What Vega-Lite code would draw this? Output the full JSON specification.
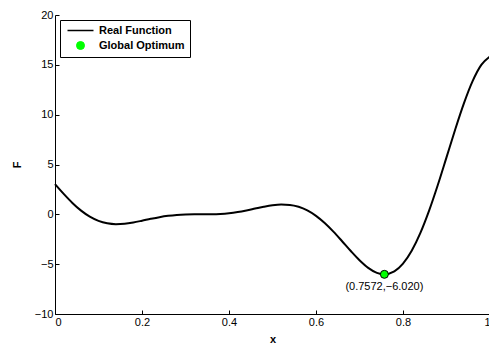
{
  "$schema": "https://vega.github.io/schema/vega-lite/v6.json",
  "width": 435,
  "height": 299,
  "autosize": {"type": "none"},
  "padding": {"left": 55, "top": 15, "right": 0, "bottom": 29},
  "background": "white",
  "config": {
    "view": {"stroke": null},
    "font": "Liberation Sans",
    "axis": {
      "grid": false,
      "domainColor": "black",
      "tickColor": "black",
      "labelColor": "black",
      "labelFont": "Liberation Sans",
      "labelFontSize": 11,
      "titleFont": "Liberation Sans",
      "titleFontSize": 11,
      "titleFontWeight": "bold",
      "titleColor": "black",
      "tickSize": -4,
      "labelPadding": 6
    }
  },
  "datasets": {
    "curve": [
      {"x": 0.00, "F": 3.0272, "series": "Real Function"},
      {"x": 0.02, "F": 2.0493, "series": "Real Function"},
      {"x": 0.04, "F": 1.1443, "series": "Real Function"},
      {"x": 0.06, "F": 0.3711, "series": "Real Function"},
      {"x": 0.08, "F": -0.2343, "series": "Real Function"},
      {"x": 0.10, "F": -0.6566, "series": "Real Function"},
      {"x": 0.12, "F": -0.9001, "series": "Real Function"},
      {"x": 0.14, "F": -0.9854, "series": "Real Function"},
      {"x": 0.16, "F": -0.9444, "series": "Real Function"},
      {"x": 0.18, "F": -0.8156, "series": "Real Function"},
      {"x": 0.20, "F": -0.6397, "series": "Real Function"},
      {"x": 0.22, "F": -0.4522, "series": "Real Function"},
      {"x": 0.24, "F": -0.2823, "series": "Real Function"},
      {"x": 0.26, "F": -0.1492, "series": "Real Function"},
      {"x": 0.28, "F": -0.0612, "series": "Real Function"},
      {"x": 0.30, "F": -0.0156, "series": "Real Function"},
      {"x": 0.32, "F": -0.0010, "series": "Real Function"},
      {"x": 0.34, "F": 0.0001, "series": "Real Function"},
      {"x": 0.36, "F": 0.0081, "series": "Real Function"},
      {"x": 0.38, "F": 0.0416, "series": "Real Function"},
      {"x": 0.40, "F": 0.1148, "series": "Real Function"},
      {"x": 0.42, "F": 0.2332, "series": "Real Function"},
      {"x": 0.44, "F": 0.3924, "series": "Real Function"},
      {"x": 0.46, "F": 0.5769, "series": "Real Function"},
      {"x": 0.48, "F": 0.7606, "series": "Real Function"},
      {"x": 0.50, "F": 0.9093, "series": "Real Function"},
      {"x": 0.52, "F": 0.9838, "series": "Real Function"},
      {"x": 0.54, "F": 0.9449, "series": "Real Function"},
      {"x": 0.56, "F": 0.7569, "series": "Real Function"},
      {"x": 0.58, "F": 0.3956, "series": "Real Function"},
      {"x": 0.60, "F": -0.1494, "series": "Real Function"},
      {"x": 0.62, "F": -0.8698, "series": "Real Function"},
      {"x": 0.64, "F": -1.7358, "series": "Real Function"},
      {"x": 0.66, "F": -2.6979, "series": "Real Function"},
      {"x": 0.68, "F": -3.6835, "series": "Real Function"},
      {"x": 0.70, "F": -4.6057, "series": "Real Function"},
      {"x": 0.72, "F": -5.3672, "series": "Real Function"},
      {"x": 0.74, "F": -5.8704, "series": "Real Function"},
      {"x": 0.7572, "F": -6.0207, "series": "Real Function"},
      {"x": 0.78, "F": -5.7280, "series": "Real Function"},
      {"x": 0.80, "F": -4.9492, "series": "Real Function"},
      {"x": 0.82, "F": -3.6569, "series": "Real Function"},
      {"x": 0.84, "F": -1.8649, "series": "Real Function"},
      {"x": 0.86, "F": 0.3675, "series": "Real Function"},
      {"x": 0.88, "F": 2.9402, "series": "Real Function"},
      {"x": 0.90, "F": 5.7114, "series": "Real Function"},
      {"x": 0.92, "F": 8.5056, "series": "Real Function"},
      {"x": 0.94, "F": 11.1260, "series": "Real Function"},
      {"x": 0.96, "F": 13.3568, "series": "Real Function"},
      {"x": 0.98, "F": 14.9900, "series": "Real Function"},
      {"x": 1.00, "F": 15.8297, "series": "Real Function"}
    ],
    "opt": [
      {"x": 0.7572, "F": -6.0207, "series": "Global Optimum", "label": "(0.7572,−6.020)"}
    ]
  },
  "layer": [
    {
      "data": {"name": "curve"},
      "mark": {"type": "line", "interpolate": "monotone", "strokeWidth": 2},
      "encoding": {
        "x": {"field": "x", "type": "quantitative", "scale": {"domain": [0, 1], "nice": false},
              "axis": {"values": [0, 0.2, 0.4, 0.6, 0.8, 1], "format": "~g", "title": "x", "titlePadding": 6}},
        "y": {"field": "F", "type": "quantitative", "scale": {"domain": [-10, 20], "nice": false},
              "axis": {"values": [-10, -5, 0, 5, 10, 15, 20], "title": "F", "titlePadding": 12}},
        "color": {
          "field": "series", "type": "nominal",
          "scale": {"domain": ["Real Function", "Global Optimum"], "range": ["black", "#00ff00"]},
          "legend": {
            "title": null,
            "orient": "none",
            "legendX": 5,
            "legendY": 5,
            "strokeColor": "black",
            "fillColor": "white",
            "padding": 5,
            "labelFont": "Liberation Sans",
            "labelFontSize": 11,
            "labelFontWeight": "bold",
            "labelColor": "black",
            "symbolOffset": 10,
            "labelOffset": 13,
            "rowPadding": 3,
            "symbolStrokeWidth": 1.5,
            "encode": {
              "symbols": {
                "update": {
                  "shape": {"signal": "datum.value === 'Real Function' ? 'stroke' : 'circle'"},
                  "size": {"signal": "datum.value === 'Real Function' ? 676 : 64"},
                  "fill": {"signal": "datum.value === 'Real Function' ? 'transparent' : '#00ff00'"},
                  "stroke": {"value": "black"},
                  "strokeWidth": {"signal": "datum.value === 'Real Function' ? 1.5 : 1"}
                }
              }
            }
          }
        }
      }
    },
    {
      "data": {"name": "opt"},
      "mark": {"type": "point", "filled": true, "size": 64, "stroke": "black", "strokeWidth": 1, "opacity": 1},
      "encoding": {
        "x": {"field": "x", "type": "quantitative"},
        "y": {"field": "F", "type": "quantitative"},
        "color": {"field": "series", "type": "nominal"}
      }
    },
    {
      "data": {"name": "opt"},
      "mark": {"type": "text", "dy": 13, "fontSize": 11, "color": "black", "font": "Liberation Sans"},
      "encoding": {
        "x": {"field": "x", "type": "quantitative"},
        "y": {"field": "F", "type": "quantitative"},
        "text": {"field": "label"}
      }
    }
  ]
}
